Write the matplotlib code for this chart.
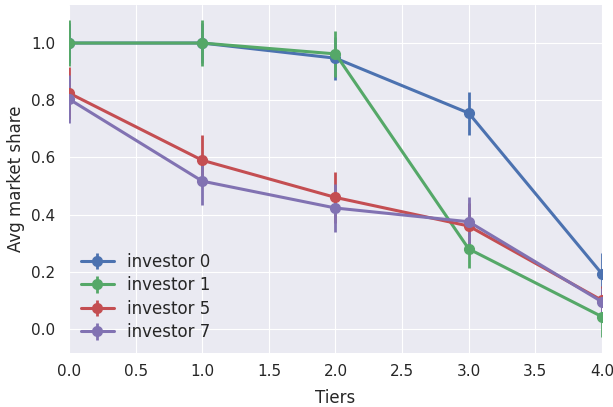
import matplotlib
matplotlib.use("Agg")
import matplotlib.pyplot as plt

plt.style.use("seaborn-v0_8-darkgrid")
plt.rcParams["font.family"] = ["DejaVu Sans"]

tiers = [0, 1, 2, 3, 4]
labels = ["investor 0", "investor 1", "investor 5", "investor 7"]
colors = ["#4C72B0", "#55A868", "#C44E52", "#8172B2"]

inv0 = [1.0, 1.0, 0.947, 0.755, 0.193]
inv0_err = [0.07, 0.07, 0.075, 0.075, 0.073]
inv1 = [1.0, 1.0, 0.962, 0.28, 0.043]
inv1_err = [0.08, 0.08, 0.08, 0.068, 0.07]
inv5 = [0.825, 0.59, 0.46, 0.36, 0.10]
inv5_err = [0.09, 0.09, 0.09, 0.08, 0.05]
inv7 = [0.804, 0.517, 0.423, 0.375, 0.095]
inv7_err = [0.083, 0.085, 0.084, 0.085, 0.05]

series = [(inv0, inv0_err), (inv1, inv1_err), (inv5, inv5_err), (inv7, inv7_err)]

fig = plt.figure(figsize=(6.13, 4.07), dpi=100)
ax = fig.add_axes([0.1126, 0.1327, 0.8694, 0.855])

for (vals, errs), lab, c in zip(series, labels, colors):
    ax.errorbar(tiers, vals, yerr=errs, fmt="-o", color=c, label=lab,
                linewidth=2.2, markersize=7, elinewidth=2)

ax.set_xlim(0, 4)
ax.set_ylim(-0.084, 1.133)
ax.set_xlabel("Tiers", fontsize=12, labelpad=7)
ax.set_ylabel("Avg market share", fontsize=12, labelpad=4)
ax.tick_params(axis="x", labelsize=11, pad=8)
ax.tick_params(axis="y", labelsize=11, pad=10)
ax.legend(loc="lower left", fontsize=12, frameon=False, labelspacing=0.33,
          borderaxespad=0.3)

fig.savefig("out.png", dpi=100)
